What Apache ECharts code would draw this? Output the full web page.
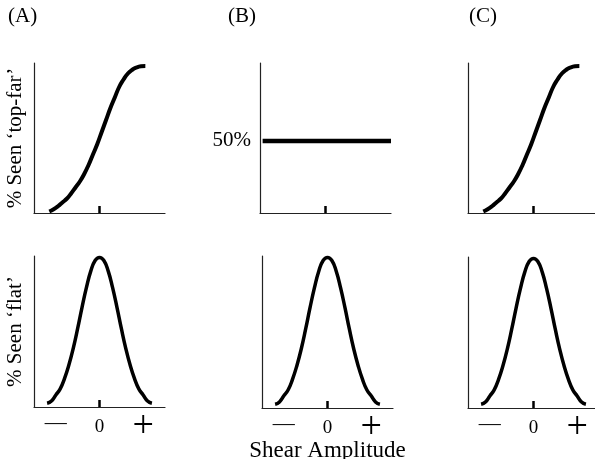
<!DOCTYPE html>
<html>
<head>
<meta charset="utf-8">
<script src="https://cdn.jsdelivr.net/npm/echarts@6/dist/echarts.min.js"></script>
<style>
  html, body { margin: 0; padding: 0; background: #fff; }
  #chart { width: 595px; height: 459px; }
</style>
</head>
<body>
<div id="chart"></div>
<script>
// values (x = shear amplitude, y = % seen)
var sigmoidX = [-1.15, -1.05, -0.95, -0.85, -0.75, -0.65, -0.55, -0.45, -0.35, -0.25, -0.15, -0.05,
  0.05, 0.15, 0.25, 0.35, 0.45, 0.55, 0.65, 0.75, 0.85, 0.95, 1.05];
var sigmoidY = [1, 2.5, 4.5, 7, 9.5, 13, 17, 21, 26, 32, 39, 46,
  54, 62, 70, 77, 84, 89, 93, 95.5, 97, 97.8, 98];

var gaussX = [-1.2, -1.1, -1.0, -0.9, -0.8, -0.7, -0.6, -0.5, -0.4, -0.3, -0.2, -0.1, 0,
  0.1, 0.2, 0.3, 0.4, 0.5, 0.6, 0.7, 0.8, 0.9, 1.0, 1.1, 1.2];
var gaussY = [2.5, 4, 8, 12, 19, 28, 39, 52, 66, 79, 90, 97, 99,
  97, 90, 79, 66, 52, 39, 28, 19, 12, 8, 4, 2.5];

var flatX = [-1.44, 1.5];
var flatY = [50, 50];

var panelTitles = ['(A)', '(B)', '(C)'];
var xLabelValues = [-1, 0, 1];
var yNames = ['% Seen \u2018top-far\u2019', '% Seen \u2018flat\u2019'];
var xName = 'Shear Amplitude';

var FONT = '"Liberation Serif", "Times New Roman", serif';

function zip(xs, ys) {
  var out = [];
  for (var i = 0; i < xs.length; i++) out.push([xs[i], ys[i]]);
  return out;
}

// panel boxes: top row A,B,C then bottom row A,B,C
var boxes = [
  { left: 34, top: 63, width: 131, height: 150 },
  { left: 260, top: 63, width: 131, height: 150 },
  { left: 468, top: 63, width: 131, height: 150 },
  { left: 34, top: 256, width: 131, height: 151 },
  { left: 262, top: 256, width: 131, height: 152 },
  { left: 468, top: 257, width: 131, height: 151 }
];

var grids = [], xAxes = [], yAxes = [], series = [];

boxes.forEach(function (b, i) {
  var bottomRow = i >= 3;
  grids.push({
    left: b.left, top: b.top, width: b.width, height: b.height,
    containLabel: false,
    outerBoundsMode: 'none'
  });

  xAxes.push({
    type: 'value',
    gridIndex: i,
    min: -1.5,
    max: 1.5,
    splitLine: { show: false },
    axisLine: { show: true, onZero: false, lineStyle: { color: '#222', width: 1.2 } },
    axisTick: { show: true, inside: true, length: 7, customValues: [0], lineStyle: { color: '#000', width: 2.5 } },
    axisLabel: {
      show: bottomRow,
      customValues: xLabelValues,
      margin: 9,
      formatter: function (v) {
        if (v < 0) return '{m|\u2014}';
        if (v > 0) return '{p|+}';
        return '{z|0}';
      },
      rich: {
        m: { fontFamily: FONT, fontSize: 22, color: '#000', height: 14, verticalAlign: 'middle' },
        z: { fontFamily: FONT, fontSize: 19, color: '#000', height: 22, verticalAlign: 'middle' },
        p: { fontFamily: FONT, fontSize: 38, color: '#000', height: 22, verticalAlign: 'middle', padding: [0, 0, 4, 0] }
      }
    },
    name: (i === 4) ? xName : '',
    nameLocation: 'middle',
    nameGap: 31,
    nameMoveOverlap: false,
    nameTextStyle: { fontFamily: FONT, fontSize: 23, color: '#000' }
  });

  var yAxis = {
    type: 'value',
    gridIndex: i,
    min: 0,
    max: 100,
    splitLine: { show: false },
    axisLine: { show: true, onZero: false, lineStyle: { color: '#222', width: 1.2 } },
    axisTick: { show: false },
    axisLabel: { show: false }
  };
  if (i === 0 || i === 3) {
    yAxis.name = yNames[i === 0 ? 0 : 1];
    yAxis.nameLocation = 'middle';
    yAxis.nameRotate = 90;
    yAxis.nameGap = 8;
    yAxis.nameTextStyle = { fontFamily: FONT, fontSize: 21, color: '#000' };
  }
  if (i === 1) {
    yAxis.max = 104;
    yAxis.axisLabel = {
      show: true,
      customValues: [50],
      formatter: '{value}%',
      margin: 9,
      fontFamily: FONT,
      fontSize: 21,
      color: '#000'
    };
  }
  yAxes.push(yAxis);
});

function curve(idx, xs, ys, width) {
  return {
    type: 'line',
    xAxisIndex: idx,
    yAxisIndex: idx,
    data: zip(xs, ys),
    smooth: true,
    symbol: 'none',
    silent: true,
    lineStyle: { color: '#000', width: width }
  };
}

series.push(curve(0, sigmoidX, sigmoidY, 4));
series.push(Object.assign(curve(1, flatX, flatY, 4.5), { smooth: false }));
series.push(curve(2, sigmoidX, sigmoidY, 4));
series.push(curve(3, gaussX, gaussY, 3.5));
series.push(curve(4, gaussX, gaussY, 3.5));
series.push(curve(5, gaussX, gaussY, 3.5));

var titleLefts = [8, 228, 469];
var titles = panelTitles.map(function (t, i) {
  return {
    text: t,
    left: titleLefts[i],
    top: 6,
    padding: 0,
    textStyle: { fontFamily: FONT, fontSize: 21, fontWeight: 'normal', color: '#000' }
  };
});

var myChart = echarts.init(document.getElementById('chart'), null, { renderer: 'canvas' });
myChart.setOption({
  animation: false,
  backgroundColor: '#fff',
  title: titles,
  grid: grids,
  xAxis: xAxes,
  yAxis: yAxes,
  series: series
});
</script>
</body>
</html>
